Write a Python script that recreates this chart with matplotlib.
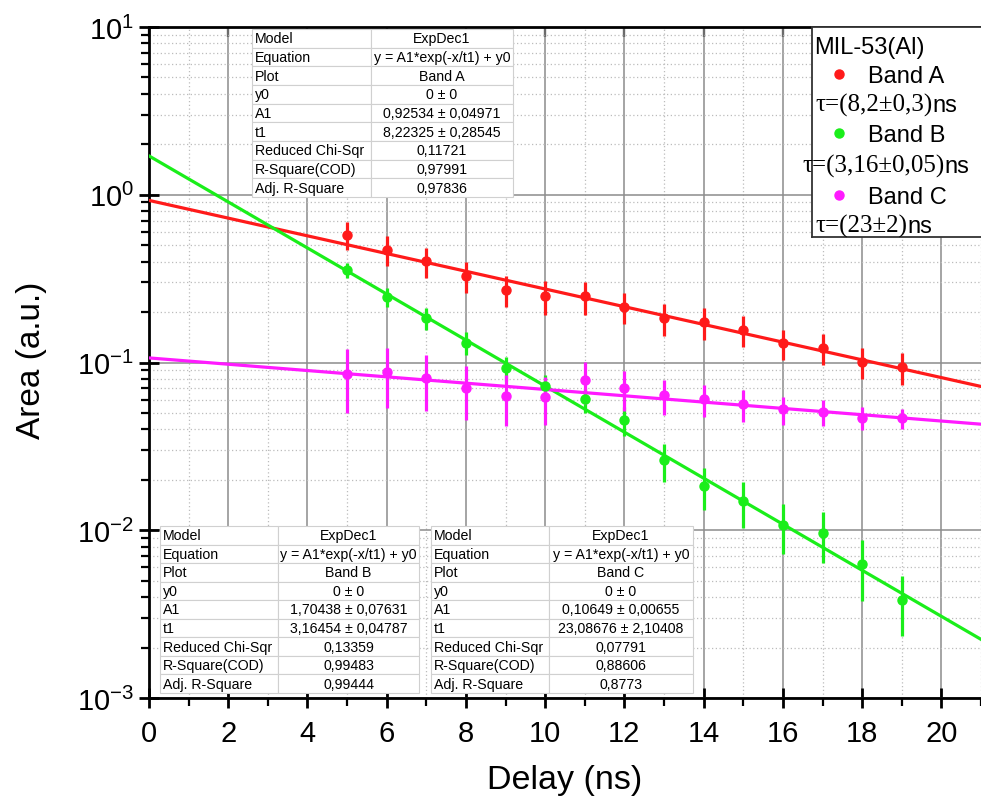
import numpy as np
import matplotlib
matplotlib.use('Agg')
import matplotlib.pyplot as plt
from matplotlib.ticker import MultipleLocator, LogLocator, NullFormatter

plt.rcParams['font.family'] = ['Liberation Sans', 'DejaVu Sans']
plt.rcParams['mathtext.fontset'] = 'custom'
plt.rcParams['mathtext.rm'] = 'Liberation Sans'

# measured points (delay in ns, band area with error bar)
delay = [5, 6, 7, 8, 9, 10, 11, 12, 13, 14, 15, 16, 17, 18, 19]
band_a = [0.578, 0.471, 0.401, 0.330, 0.272, 0.248, 0.248, 0.215, 0.183,
          0.174, 0.156, 0.130, 0.122, 0.101, 0.0937]
err_a = [0.11, 0.095, 0.083, 0.07, 0.057, 0.057, 0.055, 0.046, 0.04,
         0.037, 0.033, 0.027, 0.025, 0.021, 0.02]
band_b = [0.354, 0.246, 0.183, 0.131, 0.093, 0.0723, 0.0603, 0.0454, 0.0261,
          0.0184, 0.0149, 0.0108, 0.0096, 0.00628, 0.00383]
err_b = [0.037, 0.033, 0.027, 0.02, 0.015, 0.012, 0.010, 0.009, 0.0067,
         0.0052, 0.0046, 0.0036, 0.0032, 0.0025, 0.0015]
band_c = [0.0849, 0.0875, 0.0811, 0.0706, 0.0629, 0.0624, 0.0782, 0.0706,
          0.0636, 0.0603, 0.0562, 0.0525, 0.0509, 0.0469, 0.0464]
err_c = [0.035, 0.034, 0.03, 0.025, 0.021, 0.02, 0.022, 0.019, 0.015,
         0.013, 0.012, 0.01, 0.009, 0.0075, 0.0065]

# ExpDec1 fit results (A1, t1)
fit_a = (0.92534, 8.22325)
fit_b = (1.70438, 3.16454)
fit_c = (0.10649, 23.08676)

table_a = [['Model', 'ExpDec1'], ['Equation', 'y = A1*exp(-x/t1) + y0'],
           ['Plot', 'Band A'], ['y0', '0 ± 0'], ['A1', '0,92534 ± 0,04971'],
           ['t1', '8,22325 ± 0,28545'], ['Reduced Chi-Sqr', '0,11721'],
           ['R-Square(COD)', '0,97991'], ['Adj. R-Square', '0,97836']]
table_b = [['Model', 'ExpDec1'], ['Equation', 'y = A1*exp(-x/t1) + y0'],
           ['Plot', 'Band B'], ['y0', '0 ± 0'], ['A1', '1,70438 ± 0,07631'],
           ['t1', '3,16454 ± 0,04787'], ['Reduced Chi-Sqr', '0,13359'],
           ['R-Square(COD)', '0,99483'], ['Adj. R-Square', '0,99444']]
table_c = [['Model', 'ExpDec1'], ['Equation', 'y = A1*exp(-x/t1) + y0'],
           ['Plot', 'Band C'], ['y0', '0 ± 0'], ['A1', '0,10649 ± 0,00655'],
           ['t1', '23,08676 ± 2,10408'], ['Reduced Chi-Sqr', '0,07791'],
           ['R-Square(COD)', '0,88606'], ['Adj. R-Square', '0,8773']]

RED, GREEN, MAGENTA = '#ff1a1a', '#1aee1a', '#ff1aff'

W, H = 981, 803
fig = plt.figure(figsize=(W / 100, H / 100), dpi=100)


def fx(px):
    return px / W


def fy(py):
    return 1 - py / H


ax = fig.add_axes([fx(149), fy(699), fx(981 - 149), (699 - 28) / H])
ax.set_yscale('log')

xfit = np.linspace(0, 21, 300)
for vals, err, fit, col in [(band_a, err_a, fit_a, RED),
                            (band_b, err_b, fit_b, GREEN),
                            (band_c, err_c, fit_c, MAGENTA)]:
    ax.plot(xfit, fit[0] * np.exp(-xfit / fit[1]), color=col, lw=2.3, zorder=3)
    ax.errorbar(delay, vals, yerr=err, fmt='o', color=col, ms=6.5,
                elinewidth=2.3, capsize=0, zorder=4)

ax.set_xlim(0, 21)
ax.set_ylim(1e-3, 10)
ax.xaxis.set_major_locator(MultipleLocator(2))
ax.xaxis.set_minor_locator(MultipleLocator(1))
ax.yaxis.set_major_locator(LogLocator(base=10, numticks=10))
ax.yaxis.set_minor_locator(LogLocator(base=10, subs=np.arange(2, 10), numticks=20))
ax.yaxis.set_minor_formatter(NullFormatter())

ax.grid(which='major', color='#8c8c8c', lw=1.1, ls='-')
ax.grid(which='minor', color='#bcbcbc', lw=0.9, ls=(0, (1, 2)))
ax.set_axisbelow(True)

ax.tick_params(which='major', direction='inout', length=14, width=2,
               labelsize=21)
ax.tick_params(axis='x', which='major', pad=8)
ax.tick_params(axis='y', which='major', pad=4)
ax.tick_params(which='minor', direction='out', length=6, width=1.6)
for side in ['left', 'bottom', 'top']:
    ax.spines[side].set_linewidth(2)
ax.spines['right'].set_visible(False)

top = ax.secondary_xaxis('top')
top.xaxis.set_major_locator(MultipleLocator(2))
top.tick_params(direction='in', length=7, width=1.6, labeltop=False)
top.spines['top'].set_visible(False)

fig.text(fx(565), fy(781), 'Delay (ns)', ha='center', va='center', fontsize=24.5)
fig.text(fx(32), fy(360), 'Area (a.u.)', ha='center', va='center',
         rotation=90, fontsize=24)


def draw_table(left, top_px, right, bottom, split, rows):
    tax = fig.add_axes([fx(left), fy(bottom), fx(right - left), (bottom - top_px) / H])
    tax.axis('off')
    w1 = (split - left) / (right - left)
    tab = tax.table(cellText=rows, cellLoc='left', colWidths=[w1, 1 - w1],
                    bbox=[0, 0, 1, 1])
    tab.auto_set_font_size(False)
    tab.set_fontsize(10.2)
    for (r, c), cell in tab.get_celld().items():
        cell.set_edgecolor('#d0d0d0')
        cell.set_linewidth(0.8)
        cell.PAD = 0.025
        if c == 1:
            cell._loc = 'center'
            cell.get_text().set_ha('center')
    return tax


draw_table(252, 30, 513, 198, 371, table_a)
draw_table(160, 527, 419, 694, 278, table_b)
draw_table(431, 527, 693, 694, 549, table_c)

# legend box, drawn in pixel coordinates
lax = fig.add_axes([fx(812), fy(238), fx(178), (238 - 28) / H])
lax.set_xlim(812, 990)
lax.set_ylim(238, 28)
lax.set_xticks([])
lax.set_yticks([])
for s in lax.spines.values():
    s.set_color('#333333')
    s.set_linewidth(1.3)

lax.text(814, 54, 'MIL-53(Al)', va='baseline', fontsize=17)
entries = [('Band A', RED, 75, 'τ=(8,2±0,3)', 815, 112),
           ('Band B', GREEN, 134, 'τ=(3,16±0,05)', 802, 173),
           ('Band C', MAGENTA, 196, 'τ=(23±2)', 815, 233)]
for name, col, ym, tau, xt, yt in entries:
    lax.plot(839, ym, 'o', color=col, ms=6.5, clip_on=False)
    lax.text(868, ym + 7.5, name, va='baseline', fontsize=17)
    t = lax.text(xt, yt, tau, va='baseline', fontsize=18, family='Liberation Serif')
    lax.annotate('ns', xy=(1, yt), xycoords=(t, 'data'), va='baseline',
                 ha='left', fontsize=17)

fig.savefig('out.png', dpi=100)
